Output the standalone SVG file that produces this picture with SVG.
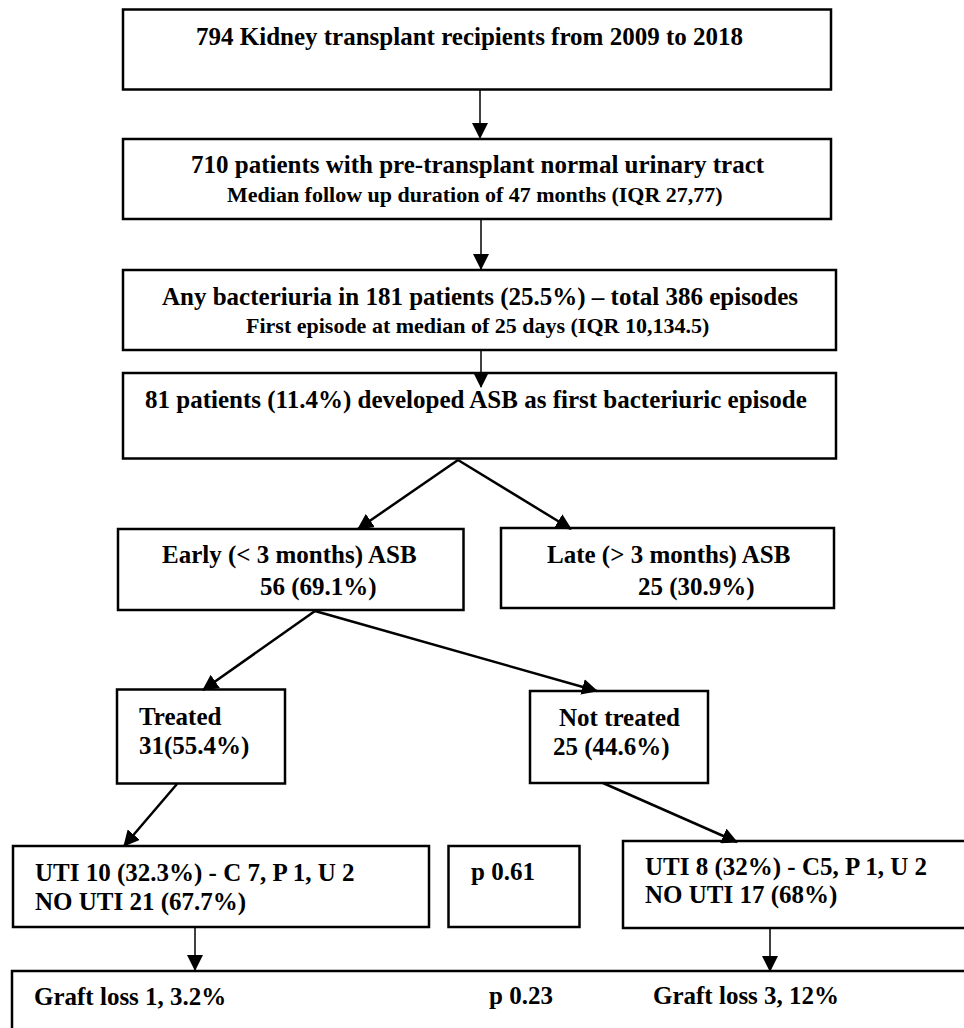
<svg xmlns="http://www.w3.org/2000/svg" width="964" height="1028" viewBox="0 0 964 1028">
<style>
.box{fill:#fff;stroke:#000;stroke-width:2.5}
.t{font-family:"Liberation Serif","Times New Roman",serif;font-weight:bold;font-size:25px;fill:#000}
.s{font-size:22px}
.thin{stroke:#000;stroke-width:1.5;fill:none}
.thick{stroke:#000;stroke-width:2.5;fill:none}
</style>
<defs>
<marker id="ah" markerUnits="userSpaceOnUse" markerWidth="16" markerHeight="16" viewBox="0 0 16 16" refX="15" refY="8" orient="auto">
<path d="M0,0 L16,8 L0,16 z" fill="#000"/>
</marker>
</defs>
<rect width="964" height="1028" fill="#fff"/>
<g id="n1"><rect class="box" x="123" y="9.5" width="708" height="80"/>
<text class="t" x="196" y="45">794 Kidney transplant recipients from 2009 to 2018</text></g>
<g id="n2"><rect class="box" x="123" y="139" width="708" height="80"/>
<text class="t" x="191" y="173">710 patients with pre-transplant normal urinary tract</text>
<text class="t s" x="227" y="202">Median follow up duration of 47 months (IQR 27,77)</text></g>
<g id="n3"><rect class="box" x="123" y="270" width="713" height="80"/>
<text class="t" x="162" y="305">Any bacteriuria in 181 patients (25.5%) – total 386 episodes</text>
<text class="t s" x="246" y="333">First episode at median of 25 days (IQR 10,134.5)</text></g>
<g id="n4"><rect class="box" x="123" y="373" width="713" height="85.5"/>
<text class="t" x="145" y="408">81 patients (11.4%) developed ASB as first bacteriuric episode</text></g>
<g id="early"><rect class="box" x="118" y="529" width="345.5" height="81"/>
<text class="t" x="162" y="563">Early (&lt; 3 months) ASB</text>
<text class="t" x="260" y="595">56 (69.1%)</text></g>
<g id="late"><rect class="box" x="501" y="528" width="333" height="80"/>
<text class="t" x="547" y="563">Late (&gt; 3 months) ASB</text>
<text class="t" x="638" y="595">25 (30.9%)</text></g>
<g id="treated"><rect class="box" x="117" y="689.5" width="168" height="94"/>
<text class="t" x="139" y="725">Treated</text>
<text class="t" x="139" y="754">31(55.4%)</text></g>
<g id="nottreated"><rect class="box" x="530" y="691" width="178" height="92"/>
<text class="t" x="559" y="726">Not treated</text>
<text class="t" x="553" y="755">25 (44.6%)</text></g>
<g id="uti1"><rect class="box" x="13" y="846" width="416" height="81"/>
<text class="t" x="35" y="881">UTI 10 (32.3%) - C 7, P 1, U 2</text>
<text class="t" x="35" y="910">NO UTI 21 (67.7%)</text></g>
<g id="p061"><rect class="box" x="448.5" y="846" width="131" height="81"/>
<text class="t" x="471" y="880">p 0.61</text></g>
<g id="uti2"><rect class="box" x="623" y="841" width="380" height="87"/>
<text class="t" x="645" y="875">UTI 8 (32%) - C5, P 1, U 2</text>
<text class="t" x="645" y="903">NO UTI 17 (68%)</text></g>
<g id="graft"><rect class="box" x="12" y="971" width="1000" height="100"/>
<text class="t" x="34" y="1005">Graft loss 1, 3.2%</text>
<text class="t" x="489" y="1004">p 0.23</text>
<text class="t" x="653" y="1004">Graft loss 3, 12%</text></g>
<g id="connectors">
<line class="thin" x1="480" y1="90" x2="480" y2="138" marker-end="url(#ah)"/>
<line class="thin" x1="481" y1="219" x2="481" y2="269" marker-end="url(#ah)"/>
<line class="thin" x1="481" y1="350" x2="481" y2="387" marker-end="url(#ah)"/>
<line class="thick" x1="458" y1="460" x2="358" y2="529" marker-end="url(#ah)"/>
<line class="thick" x1="458" y1="460" x2="571" y2="529" marker-end="url(#ah)"/>
<line class="thick" x1="315" y1="611" x2="203" y2="690" marker-end="url(#ah)"/>
<line class="thick" x1="315" y1="611" x2="597" y2="691" marker-end="url(#ah)"/>
<line class="thick" x1="177" y1="784" x2="124" y2="846" marker-end="url(#ah)"/>
<line class="thick" x1="603" y1="783" x2="737" y2="842" marker-end="url(#ah)"/>
<line class="thin" x1="195" y1="927" x2="195" y2="970" marker-end="url(#ah)"/>
<line class="thin" x1="770" y1="928" x2="770" y2="971" marker-end="url(#ah)"/>
</g>
</svg>
